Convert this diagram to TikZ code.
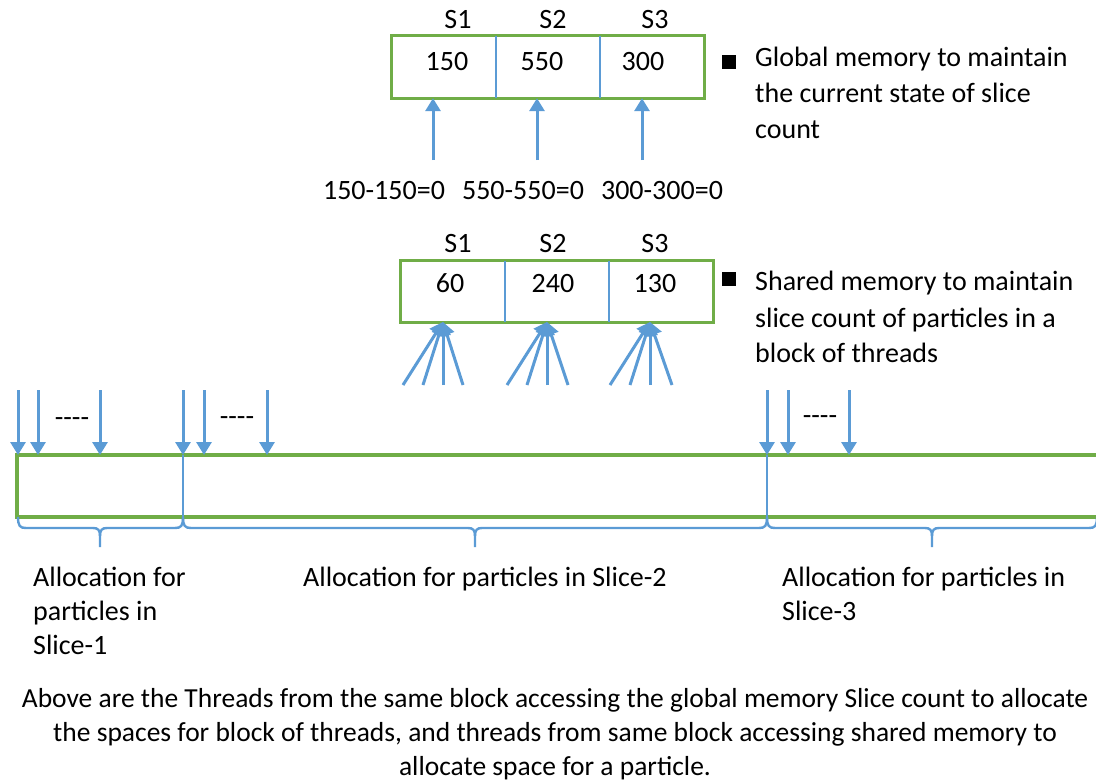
\documentclass[tikz,border=0pt]{standalone}
\usepackage{fontspec}
\setmainfont{Carlito}
\usetikzlibrary{arrows.meta}
\definecolor{gr}{HTML}{70AD47}
\definecolor{bl}{HTML}{5B9BD5}
\begin{document}
\begin{tikzpicture}[x=1pt,y=-1pt,
  font=\fontsize{28}{34}\selectfont,
  gline/.style={draw=gr, line width=2.8pt},
  bdiv/.style={draw=bl, line width=1.8pt},
  arr/.style={draw=bl, line width=3pt, -{Triangle[width=15pt,length=13pt]}},
  bracepath/.style={draw=bl, line width=2.4pt},
  txt/.style={inner sep=0pt, anchor=base},
  txtw/.style={inner sep=0pt, anchor=base west},
  cell/.style={minimum width=104pt, minimum height=62pt, inner sep=0pt},
  bullet/.style={fill=black, minimum size=14pt, inner sep=0pt}]
\useasboundingbox (0,0) rectangle (1096,782);
\clip (0,0) rectangle (1096,782);

% ---------- global memory box ----------
\node[cell] (g1) at (444,67) {};
\node[cell] (g2) at (548,67) {};
\node[cell] (g3) at (652,67) {};
\draw[gline] (g1.north west) rectangle (g3.south east);
\draw[bdiv] (g1.north east) -- (g1.south east);
\draw[bdiv] (g2.north east) -- (g2.south east);
\node[txt] (gs1) at (458,28) {S1};
\node[txt] (gs2) at (553,28) {S2};
\node[txt] (gs3) at (655,28) {S3};
\node[txt] (gv1) at (447,70) {150};
\node[txt] (gv2) at (542,70) {550};
\node[txt] (gv3) at (643,70) {300};

\coordinate (ga1) at (433,160);
\coordinate (ga2) at (537,160);
\coordinate (ga3) at (642,160);
\draw[arr] (ga1) -- (ga1 |- g1.south);
\draw[arr] (ga2) -- (ga2 |- g2.south);
\draw[arr] (ga3) -- (ga3 |- g3.south);
\node[txt] (gl1) at (384,199) {150-150=0};
\node[txt] (gl2) at (523,199) {550-550=0};
\node[txt] (gl3) at (662,199) {300-300=0};

\node[bullet] (gb) at (729,62) {};
\node[txtw] (gt1) at (755,66) {Global memory to maintain};
\node[txtw] (gt2) at (755,102) {the current state of slice};
\node[txtw] (gt3) at (755,138) {count};

% ---------- shared memory box ----------
\node[cell, minimum height=61pt] (s1) at (453,291.5) {};
\node[cell, minimum height=61pt] (s2) at (557,291.5) {};
\node[cell, minimum height=61pt] (s3) at (661,291.5) {};
\draw[gline] (s1.north west) rectangle (s3.south east);
\draw[bdiv] (s1.north east) -- (s1.south east);
\draw[bdiv] (s2.north east) -- (s2.south east);
\node[txt] (ss1) at (458,252) {S1};
\node[txt] (ss2) at (553,252) {S2};
\node[txt] (ss3) at (655,252) {S3};
\node[txt] (sv1) at (450,292) {60};
\node[txt] (sv2) at (553,292) {240};
\node[txt] (sv3) at (655,292) {130};

\coordinate (t1) at (443,322);
\coordinate (t2) at (547,322);
\coordinate (t3) at (650,322);
\foreach \x in {403,423,443,463}{\coordinate (f) at (\x,385); \draw[arr] (f) -- (t1);}
\foreach \x in {507,527,547,568}{\coordinate (f) at (\x,385); \draw[arr] (f) -- (t2);}
\foreach \x in {610,630,650,672}{\coordinate (f) at (\x,385); \draw[arr] (f) -- (t3);}

\node[bullet] (sb) at (729,279) {};
\node[txtw] (st1) at (755,290) {Shared memory to maintain};
\node[txtw] (st2) at (755,327) {slice count of particles in a};
\node[txtw] (st3) at (755,362) {block of threads};

% ---------- allocation bar ----------
\draw[gline, line width=3.2pt] (1100,455) -- (17,455) -- (17,517) -- (1100,517);
\draw[bdiv, line width=2.4pt] (183,455) -- (183,517);
\draw[bdiv, line width=2.4pt] (767,455) -- (767,517);
\foreach \x in {18,38,100,183,204,267,767,788,849}{
  \coordinate (d) at (\x,390); \draw[arr] (d) -- (\x,455);}
\node[txt] (dd1) at (72,426) {-{}-{}-{}-};
\node[txt] (dd2) at (237,425) {-{}-{}-{}-};
\node[txt] (dd3) at (820,424) {-{}-{}-{}-};

% braces
\foreach \a/\m/\b in {18/100/183, 183/475/767, 767/932/1097}{
  \draw[bracepath] (\a,517) .. controls (\a,526) and (\a+2,528) .. (\a+8,528)
    -- (\m-7,528) .. controls (\m-2,528) and (\m,530) .. (\m,536) -- (\m,547);
  \draw[bracepath] (\m,536) .. controls (\m,530) and (\m+2,528) .. (\m+7,528)
    -- (\b-8,528) .. controls (\b-2,528) and (\b,526) .. (\b,517);
}

\node[txtw] (al1) at (33,586) {Allocation for};
\node[txtw] (al2) at (33,620) {particles in};
\node[txtw] (al3) at (33,654) {Slice-1};
\node[txtw] (bl1) at (303,586) {Allocation for particles in Slice-2};
\node[txtw] (cl1) at (782,586) {Allocation for particles in};
\node[txtw] (cl2) at (782,620) {Slice-3};

\begin{scope}[font=\fontsize{27.5}{34}\selectfont]
\node[txt] (c1) at (555,707) {Above are the Threads from the same block accessing the global memory Slice count to allocate};
\node[txt] (c2) at (555,741) {the spaces for block of threads, and threads from same block accessing shared memory to};
\node[txt] (c3) at (555,775) {allocate space for a particle.};
\end{scope}
\end{tikzpicture}
\end{document}
